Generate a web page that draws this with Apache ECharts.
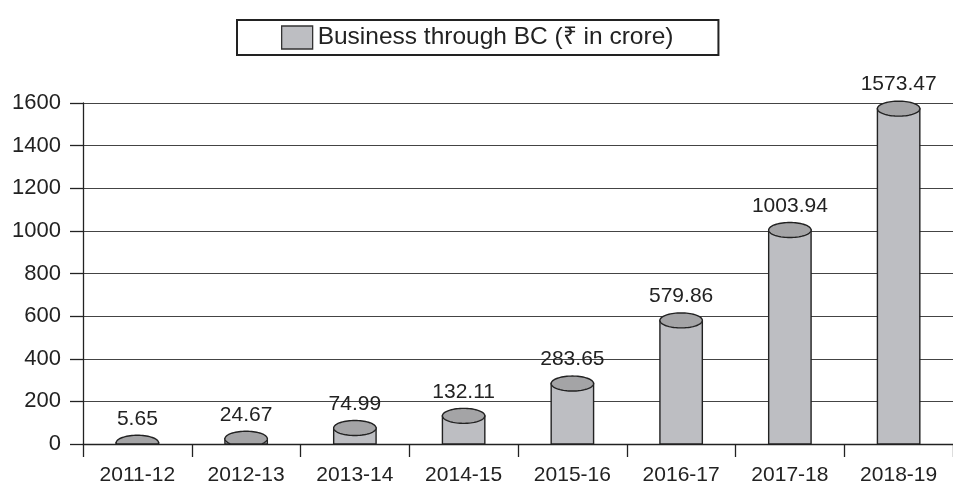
<!DOCTYPE html>
<html>
<head>
<meta charset="utf-8">
<script src="https://cdn.jsdelivr.net/npm/echarts@6/dist/echarts.min.js"></script>
<style>
html,body{margin:0;padding:0;background:#fff;}
#chart{width:953px;height:487px;}
</style>
</head>
<body>
<div id="chart"></div>
<script>
var categories = ['2011-12','2012-13','2013-14','2014-15','2015-16','2016-17','2017-18','2018-19'];
var values = [5.65, 24.67, 74.99, 132.11, 283.65, 579.86, 1003.94, 1573.47];
var seriesName = 'Business through BC (\u20B9 in crore)';
var yTicks = [0, 200, 400, 600, 800, 1000, 1200, 1400, 1600];

var FONT = 'Liberation Sans, Arial, sans-serif';
var chart = echarts.init(document.getElementById('chart'), null, {renderer: 'canvas'});

function ellipsePoints(cx, cy, rx, ry, maxY) {
  var pts = [];
  for (var k = 0; k < 72; k++) {
    var a = k / 72 * Math.PI * 2;
    var y = cy + ry * Math.sin(a);
    pts.push([cx + rx * Math.cos(a), Math.min(y, maxY)]);
  }
  return pts;
}

function renderItem(params, api) {
  var idx = api.value(0);
  var val = api.value(1);
  var top = api.coord([idx, val]);
  var base = api.coord([idx, 0]);
  var bw = api.size([1, 0])[0] * 0.39;
  var rx = bw / 2, ry = 7.5;
  var cx = top[0];
  return {
    type: 'group',
    children: [
      {
        type: 'rect',
        shape: {x: cx - rx, y: top[1], width: bw, height: base[1] - top[1]},
        style: {fill: '#bdbec2', stroke: '#222', lineWidth: 1.4}
      },
      {
        type: 'polygon',
        shape: {points: ellipsePoints(cx, top[1], rx, ry, base[1])},
        style: {fill: '#a4a4a6', stroke: '#222', lineWidth: 1.4}
      },
      {
        type: 'text',
        style: {
          x: cx, y: top[1] - 24,
          text: api.value(2),
          align: 'center', verticalAlign: 'middle',
          font: '21px ' + FONT, fill: '#222'
        }
      }
    ]
  };
}

var data = values.map(function (v, i) { return [i, v, String(v)]; });

chart.setOption({
  animation: false,
  backgroundColor: '#fff',
  legend: {
    data: [{name: seriesName, icon: 'rect'}],
    left: 237, top: 20,
    padding: [5, 45, 5, 44],
    borderColor: '#222', borderWidth: 2,
    itemWidth: 31, itemHeight: 23, itemGap: 8,
    textStyle: {fontFamily: FONT, fontSize: 24.5, color: '#222'},
    itemStyle: {color: '#bdbec2', borderColor: '#333', borderWidth: 1.3}
  },
  grid: {left: 83, top: 103, width: 878, height: 341, containLabel: false},
  xAxis: {
    type: 'category',
    data: categories,
    boundaryGap: true,
    axisLine: {show: true, lineStyle: {color: '#222', width: 1.3}},
    axisTick: {show: true, length: 13, alignWithLabel: false, lineStyle: {color: '#222', width: 1.3}},
    axisLabel: {fontFamily: FONT, fontSize: 21, color: '#222', margin: 21, interval: 0},
    splitLine: {show: false}
  },
  yAxis: {
    type: 'value',
    min: 0, max: 1600, interval: 200,
    axisLine: {show: true, lineStyle: {color: '#222', width: 1.3}},
    axisTick: {show: true, length: 13, lineStyle: {color: '#222', width: 1.3}},
    axisLabel: {fontFamily: FONT, fontSize: 22, color: '#222', margin: 22,
      formatter: function (v) { return yTicks.indexOf(v) >= 0 ? String(v) : ''; }},
    splitLine: {show: true, lineStyle: {color: '#444', width: 1.2}}
  },
  series: [{
    name: seriesName,
    type: 'custom',
    renderItem: renderItem,
    encode: {x: 0, y: 1},
    itemStyle: {color: '#bdbec2', borderColor: '#333', borderWidth: 1.3},
    data: data,
    clip: false
  }]
});
</script>
</body>
</html>
